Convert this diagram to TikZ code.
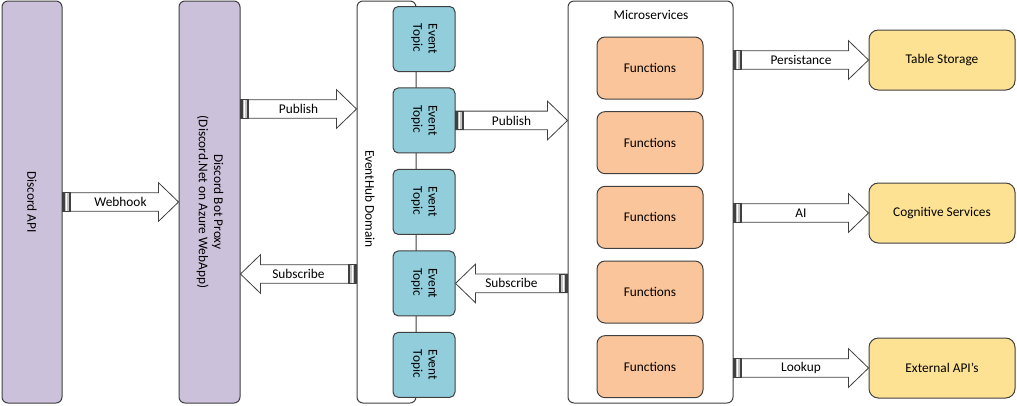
\documentclass[tikz,border=0pt]{standalone}
\usepackage{fontspec}
\setmainfont{Carlito}
\usepackage{graphicx}
\usetikzlibrary{positioning,calc}

\definecolor{proxyfill}{HTML}{CCC1DA}
\definecolor{topicfill}{HTML}{92CDDC}
\definecolor{funcfill}{HTML}{FAC59B}
\definecolor{storefill}{HTML}{FDE294}
\definecolor{edgegray}{HTML}{404040}

% block arrow with striped tail: start, end, label
\newcommand\flowarrow[3]{%
  \coordinate (fa-s) at (#1);
  \coordinate (fa-e) at (#2);
  \coordinate (fa-h) at ($(fa-e)!15pt!(fa-s)$);
  \coordinate (fa-t) at ($(fa-s)!6pt!(fa-e)$);
  \coordinate (fa-a) at ($(fa-s)!1pt!(fa-e)$);
  \coordinate (fa-b) at ($(fa-s)!3.3pt!(fa-e)$);
  \coordinate (fa-c) at ($(fa-s)!5.4pt!(fa-e)$);
  \path[flow] ($(fa-s)!7pt!90:(fa-e)$) -- ($(fa-h)!7pt!90:(fa-e)$)
    -- ($(fa-h)!14.5pt!90:(fa-e)$) -- (fa-e) -- ($(fa-h)!14.5pt!-90:(fa-e)$)
    -- ($(fa-h)!7pt!-90:(fa-e)$) -- ($(fa-s)!7pt!-90:(fa-e)$) -- cycle;
  \fill[gray!45] ($(fa-s)!7pt!90:(fa-e)$) rectangle ($(fa-t)!7pt!-90:(fa-e)$);
  \draw[edgegray,line width=1.3pt] ($(fa-a)!7pt!90:(fa-e)$) -- ($(fa-a)!7pt!-90:(fa-e)$);
  \draw[white,line width=0.8pt] ($(fa-b)!7pt!90:(fa-e)$) -- ($(fa-b)!7pt!-90:(fa-e)$);
  \draw[edgegray,line width=0.7pt] ($(fa-c)!7pt!90:(fa-e)$) -- ($(fa-c)!7pt!-90:(fa-e)$);
  \draw[edgegray,line width=0.5pt] ($(fa-s)!7pt!90:(fa-e)$) rectangle ($(fa-t)!7pt!-90:(fa-e)$);
  \node[flowlabel] at ($(fa-s)!0.5!(fa-e)$) {#3};
}

\begin{document}
\begin{tikzpicture}[x=0.75pt,y=-0.75pt,
  every node/.style={font=\fontsize{10}{11.5}\selectfont,inner sep=0pt},
  box/.style={draw=edgegray,line width=0.75pt,rounded corners=4.5pt,
    minimum height=301.5pt},
  topic/.style={draw=edgegray,line width=0.75pt,fill=topicfill,rounded corners=4pt,
    minimum width=46.5pt,minimum height=48.75pt},
  func/.style={draw=edgegray,line width=0.75pt,fill=funcfill,rounded corners=6pt,
    minimum width=79.5pt,minimum height=46.5pt},
  store/.style={draw=edgegray,line width=0.75pt,fill=storefill,rounded corners=7pt,
    minimum width=109.5pt,minimum height=45pt},
  flow/.style={draw=edgegray,line width=0.6pt,fill=white},
  flowlabel/.style={text=black}]
\useasboundingbox (0,0) rectangle (1017,405);

\node[box,fill=proxyfill,minimum width=45pt](api) at (32,202)
  {\rotatebox{-90}{Discord API}};
\node[box,fill=proxyfill,minimum width=45.75pt](proxy) at (209.5,202)
  {\rotatebox{-90}{\begin{tabular}{@{}c@{}}Discord Bot Proxy\\(Discord.Net on Azure WebApp)\end{tabular}}};

\node[box,fill=white,minimum width=44.25pt](hub) at (386.5,202) {};
\node[rotate=-90](hublabel) at (370,199) {EventHub Domain};

\node[topic](t1) at (424,39)
  {\rotatebox{-90}{\begin{tabular}{@{}l@{}}Event\\Topic\end{tabular}}};
\foreach \i [count=\j from 2] in {1,...,4}
  \node[topic,below of=t\i,node distance=61.1pt](t\j)
    {\rotatebox{-90}{\begin{tabular}{@{}l@{}}Event\\Topic\end{tabular}}};

\node[box,fill=white,minimum width=123.75pt](ms) at (650.5,202) {};
\node(mslabel) at (651,15) {Microservices};

\node[func](f1) at (650,68) {Functions};
\foreach \i [count=\j from 2] in {1,...,4}
  \node[func,below of=f\i,node distance=56pt](f\j) {Functions};

\node[store](table) at (942,60) {Table Storage};
\node[store](cog) at (942,213) {Cognitive Services};
\node[store](ext) at (942,368) {External API’s};

\coordinate (lvpub) at (0,109);
\coordinate (lvsub) at (0,274);

\flowarrow{api.east}{proxy.west}{Webhook}
\flowarrow{proxy.east |- lvpub}{hub.west |- lvpub}{Publish}
\flowarrow{hub.west |- lvsub}{proxy.east |- lvsub}{Subscribe}
\flowarrow{t2.east}{ms.west |- t2}{Publish}
\flowarrow{ms.west |- t4}{t4.east}{Subscribe}
\flowarrow{ms.east |- table}{table.west}{Persistance}
\flowarrow{ms.east |- cog}{cog.west}{AI}
\flowarrow{ms.east |- ext}{ext.west}{Lookup}
\end{tikzpicture}
\end{document}
